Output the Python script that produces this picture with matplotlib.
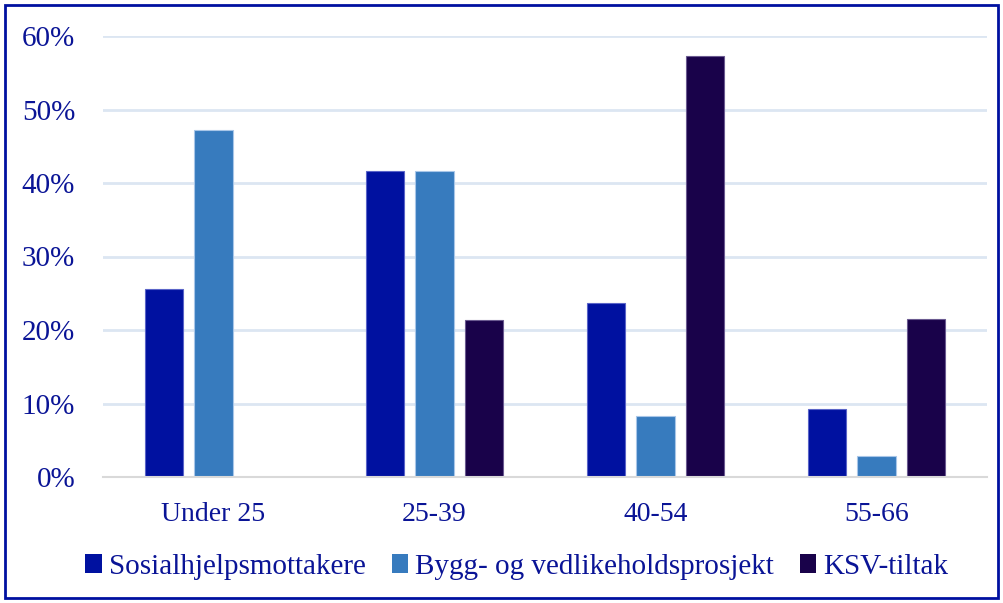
import matplotlib
matplotlib.use("Agg")
import matplotlib.pyplot as plt
from matplotlib.patches import Rectangle
import numpy as np

categories = ["Under 25", "25-39", "40-54", "55-66"]
series_names = ["Sosialhjelpsmottakere", "Bygg- og vedlikeholdsprosjekt", "KSV-tiltak"]
sosial = [25.6, 41.6, 23.7, 9.2]
bygg = [47.2, 41.7, 8.3, 2.8]
ksv = [0.0, 21.4, 57.3, 21.5]
yticks = [0, 10, 20, 30, 40, 50, 60]

colors = ["#0011A0", "#377BBE", "#19024A"]
edges = ["#5a64c8", "#a8c6e8", "#6a5a90"]
text_color = "#0A1496"

plt.rcParams['font.family'] = ['Liberation Serif', 'DejaVu Serif']

fig = plt.figure(figsize=(10.04, 6.03), dpi=100)
ax = fig.add_axes([103/1004, 1 - 477/603, (987-103)/1004, (477-36)/603 * 1.0])

x = np.arange(len(categories))
w = 0.172
off = 0.222
for i, (vals, c, ec, name) in enumerate(zip([sosial, bygg, ksv], colors, edges, series_names)):
    ax.bar(x + (i - 1) * off, vals, width=w, color=c, edgecolor=ec, linewidth=0.8,
           label=name, zorder=3)

ax.set_xlim(-0.5, len(categories) - 0.5)
ax.set_ylim(0, 60)
ax.set_yticks(yticks)
ax.set_yticklabels([f"{v}%" for v in yticks], fontsize=21, color=text_color)
ax.set_xticks(x)
ax.set_xticklabels(categories, fontsize=20, color=text_color)
ax.tick_params(axis='both', length=0)
ax.tick_params(axis='y', pad=20)
ax.tick_params(axis='x', pad=18)
ax.grid(axis='y', color="#DCE6F2", linewidth=2, zorder=0)
for s in ["top", "right", "left"]:
    ax.spines[s].set_visible(False)
ax.spines["bottom"].set_color("#D9D9D9")
ax.spines["bottom"].set_linewidth(1.5)
ax.spines["bottom"].set_zorder(4)

leg = fig.legend(loc="center", bbox_to_anchor=(0.515, 1 - 567/603), ncol=3, frameon=False,
                 fontsize=21, handlelength=0.55, handleheight=0.6, handletextpad=0.25,
                 columnspacing=0.9, labelcolor=text_color)
for h in leg.legend_handles:
    h.set_edgecolor("none")

fig.patches.append(Rectangle((5/1004, 5/603), 993/1004, 593/603, transform=fig.transFigure,
                             fill=False, edgecolor="#0010A0", linewidth=2))

fig.savefig("out.png", dpi=100)
